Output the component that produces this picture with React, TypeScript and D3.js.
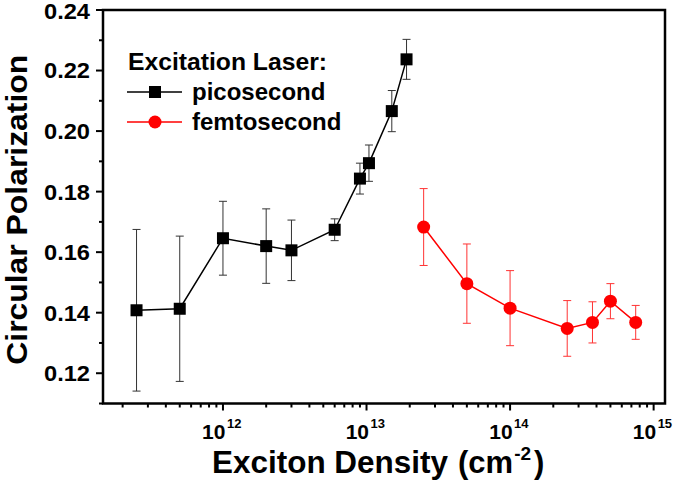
import React from "react";
import * as d3 from "d3";

const picoX = [2.5e11, 5e11, 1e12, 2e12, 3e12, 6e12, 9e12, 1.04e13, 1.5e13, 1.9e13];
const picoY = [0.1408, 0.1413, 0.1646, 0.1620, 0.1606, 0.1674, 0.1843, 0.1894, 0.2066, 0.2237];
const picoErr = [0.0267, 0.0240, 0.0122, 0.0123, 0.0100, 0.0036, 0.0051, 0.0060, 0.0068, 0.0066];

const femtoX = [2.5e13, 5e13, 1e14, 2.5e14, 3.75e14, 5e14, 7.5e14];
const femtoY = [0.1683, 0.1496, 0.1415, 0.1348, 0.1368, 0.1438, 0.1368];
const femtoErr = [0.0127, 0.0131, 0.0124, 0.0092, 0.0068, 0.0058, 0.0056];

const yTicks = [0.12, 0.14, 0.16, 0.18, 0.20, 0.22, 0.24];
const yMinor = [0.11, 0.13, 0.15, 0.17, 0.19, 0.21, 0.23];
const xDecades = [12, 13, 14, 15];

const FONT = "'Liberation Sans', Arial, sans-serif";

export default function App() {
  const W = 675, H = 484;
  const L = 103, R = 665, T = 10, B = 403.5;
  const x = d3.scaleLog().domain([1.46e11, 1.2e15]).range([L, R]);
  const y = d3.scaleLinear().domain([0.11, 0.24]).range([B, T]);

  const minorX: number[] = [];
  for (let e = 11; e <= 15; e++) {
    for (let m = 2; m <= 9; m++) {
      const v = m * Math.pow(10, e);
      if (v > x.domain()[0] && v < x.domain()[1]) minorX.push(v);
    }
  }

  const line = d3.line<[number, number]>().x(d => x(d[0])).y(d => y(d[1]));
  const picoPts = picoX.map((v, i) => [v, picoY[i]] as [number, number]);
  const femtoPts = femtoX.map((v, i) => [v, femtoY[i]] as [number, number]);

  const errBars = (xs: number[], ys: number[], es: number[], color: string) =>
    xs.map((v, i) => {
      const cx = x(v), y1 = y(ys[i] + es[i]), y2 = y(ys[i] - es[i]);
      return (
        <g key={i} stroke={color} strokeWidth={1}>
          <line x1={cx} x2={cx} y1={y1} y2={y2} />
          <line x1={cx - 4} x2={cx + 4} y1={y1} y2={y1} />
          <line x1={cx - 4} x2={cx + 4} y1={y2} y2={y2} />
        </g>
      );
    });

  return (
    <svg width={W} height={H} style={{ position: "absolute", left: 0, top: 0 }}>
      <rect width={W} height={H} fill="white" />
      {yTicks.map(t => (
        <line key={"yt" + t} x1={L - 7} x2={L} y1={y(t)} y2={y(t)} stroke="black" strokeWidth={2} />
      ))}
      {yMinor.map(t => (
        <line key={"ym" + t} x1={L - 4} x2={L} y1={y(t)} y2={y(t)} stroke="black" strokeWidth={2} />
      ))}
      {yTicks.map(t => (
        <text key={"yl" + t} x={90} y={Math.max(y(t), 11)} dy="0.36em" textAnchor="end" fontFamily={FONT} fontWeight="bold" fontSize={22}
          textLength={46} lengthAdjust="spacingAndGlyphs">
          {t.toFixed(2)}
        </text>
      ))}
      {xDecades.map(e => (
        <line key={"xt" + e} x1={x(Math.pow(10, e))} x2={x(Math.pow(10, e))} y1={B} y2={B + 7} stroke="black" strokeWidth={2} />
      ))}
      {minorX.map(v => (
        <line key={"xm" + v} x1={x(v)} x2={x(v)} y1={B} y2={B + 4} stroke="black" strokeWidth={2} />
      ))}
      {xDecades.map(e => (
        <g key={"xl" + e} fontFamily={FONT} fontWeight="bold">
          <text x={x(Math.pow(10, e)) + 2.5} y={438.5} textAnchor="end" fontSize={21}>10</text>
          <text x={x(Math.pow(10, e)) + 4} y={427.5} fontSize={13}>{e}</text>
        </g>
      ))}
      <rect x={L} y={T} width={R - L} height={B - T} fill="none" stroke="black" strokeWidth={2.5} />
      {errBars(picoX, picoY, picoErr, "#333")}
      {errBars(femtoX, femtoY, femtoErr, "#f33")}
      <path d={line(picoPts) || ""} fill="none" stroke="black" strokeWidth={1.5} />
      <path d={line(femtoPts) || ""} fill="none" stroke="red" strokeWidth={1.5} />
      {picoPts.map((p, i) => (
        <rect key={"ps" + i} x={x(p[0]) - 6} y={y(p[1]) - 6} width={12} height={12} fill="black" />
      ))}
      {femtoPts.map((p, i) => (
        <circle key={"fc" + i} cx={x(p[0])} cy={y(p[1])} r={6.5} fill="red" />
      ))}
      {/* legend */}
      <text x={128} y={70} fontFamily={FONT} fontWeight="bold" fontSize={24} textLength={199} lengthAdjust="spacingAndGlyphs">Excitation Laser:</text>
      <line x1={127} x2={182} y1={92} y2={92} stroke="black" strokeWidth={1.5} />
      <rect x={149} y={86} width={12} height={12} fill="black" />
      <text x={192} y={99.5} fontFamily={FONT} fontWeight="bold" fontSize={24}>picosecond</text>
      <line x1={127} x2={182} y1={122} y2={122} stroke="red" strokeWidth={1.5} />
      <circle cx={155} cy={122} r={6.5} fill="red" />
      <text x={192} y={129.5} fontFamily={FONT} fontWeight="bold" fontSize={24}>femtosecond</text>
      {/* axis titles */}
      <g fontFamily={FONT} fontWeight="bold">
        <text x={212} y={473} fontSize={31} textLength={236} lengthAdjust="spacingAndGlyphs">Exciton Density</text>
        <text x={458} y={473} fontSize={31}>
          (cm<tspan dx={1} dy={-13} fontSize={19}>-2</tspan><tspan dx={3} dy={13}>)</tspan>
        </text>
        <text transform={`translate(27,${(T + B) / 2 + 3}) rotate(-90)`} textAnchor="middle" fontSize={30}
          textLength={310} lengthAdjust="spacingAndGlyphs">
          Circular Polarization
        </text>
      </g>
    </svg>
  );
}
